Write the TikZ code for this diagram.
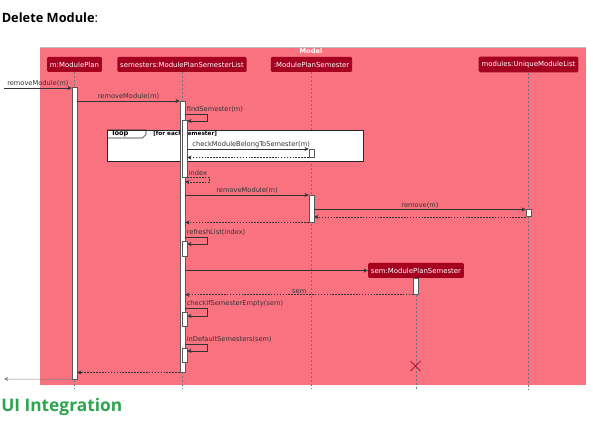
\documentclass[tikz,border=0pt]{standalone}
\usepackage{fontspec}
\setmainfont{Open Sans}
\newfontfamily\umlfont{DejaVu Sans}
\usetikzlibrary{arrows.meta}

\definecolor{modelpink}{RGB}{248,114,128}
\definecolor{boxred}{RGB}{165,0,32}
\definecolor{headgreen}{RGB}{44,164,78}
\definecolor{killred}{RGB}{190,20,60}

\tikzset{
  participant/.style={fill=boxred, text=white, rounded corners=1pt, inner xsep=2.2pt,
    minimum height=11.25pt, font=\umlfont\fontsize{5.2}{6}\selectfont},
  lifeline/.style={black!55, dash pattern=on 1.5pt off 1.5pt, line width=0.3pt},
  activation/.style={draw=black!65, fill=white, line width=0.35pt, minimum width=3.75pt,
    inner sep=0pt, anchor=north},
  msg/.style={-{Stealth[length=3.2pt,width=3pt]}, black!80, line width=0.35pt},
  ret/.style={msg, dash pattern=on 1.2pt off 1pt},
  msglabel/.style={font=\umlfont\fontsize{5}{6}\selectfont, text=black!80, inner sep=1pt},
}

\begin{document}
\begin{tikzpicture}[x=0.75pt,y=-0.75pt]
    \useasboundingbox (0,0) rectangle (593,423);

    % Headings of the page
    \node[anchor=west, inner sep=0pt, font=\fontsize{9.6}{11}\selectfont] (title) at (1.5,18) {\textbf{Delete Module}:};
    \node[anchor=west, inner sep=0pt, text=headgreen, font=\bfseries\fontsize{13}{15}\selectfont] (next) at (1,407) {UI Integration};

    % Draw the Model box
    \fill[modelpink] (40,47) rectangle (586,385);
    \draw[black!25, line width=0.4pt] (40,47) -- (586,47);
    \node[text=white, inner sep=0pt, font=\umlfont\bfseries\fontsize{5}{6}\selectfont] (model) at (311,51.5) {Model};

    % Participants
    \node[participant] (plan) at (74.5,64.5) {m:ModulePlan};
    \node[participant] (list) at (182,64.5) {semesters:ModulePlanSemesterList};
    \node[participant] (semobj) at (311.5,64.5) {:ModulePlanSemester};
    \node[participant] (modules) at (528.5,64.5) {modules:UniqueModuleList};

    % Lifelines
    \coordinate (bottom) at (0,389);
    \draw[lifeline] (plan.south) -- (plan |- bottom);
    \draw[lifeline] (list.south) -- (list |- bottom);
    \draw[lifeline] (semobj.south) -- (semobj |- bottom);
    \draw[lifeline] (modules.south) -- (modules |- bottom);

    % Loop fragment
    \node[draw=black!85, fill=white, line width=0.6pt, minimum width=192pt, minimum height=23.25pt,
      inner sep=0pt, anchor=north west] (loop) at (107,130) {};
    \draw[black!85, line width=0.5pt] (loop.north west) -- ++(39,0) -- ++(0,4.5) -- ++(-3.5,3.5) -- ++(-35.5,0);
    \node[anchor=west, inner sep=0pt, font=\umlfont\bfseries\fontsize{5}{6}\selectfont] (looptext) at (112,134) {loop};
    \node[anchor=west, inner sep=0pt, font=\umlfont\bfseries\fontsize{4.3}{5}\selectfont] (guard) at (153,133.5) {[for each semester]};

    % Activation bars
    \node[activation, minimum height=219pt] (planbar) at (74.5,87) {};
    \node[activation, minimum height=203.25pt] (listbar) at (182.5,101) {};
    \node[activation, minimum height=42.75pt] (findbar) at (184.5,120) {};
    \node[activation, minimum height=6pt] (checkbar) at (311.5,149) {};
    \node[activation, minimum height=20.25pt] (rmbar) at (311.5,195) {};
    \node[activation, minimum height=5.25pt] (uniqbar) at (528.5,209.5) {};
    \node[activation, minimum height=11.25pt] (refreshbar) at (184.5,241) {};
    \node[activation, minimum height=10.5pt] (emptybar) at (184.5,312) {};
    \node[activation, minimum height=10.5pt] (defaultbar) at (184.5,348) {};

    % Messages
    \coordinate (caller) at (4,88);
    \draw[msg] (caller) -- (caller -| planbar.west) node[msglabel, midway, above] {removeModule(m)};
    \draw[msg] (planbar.east |- listbar.north) -- (listbar.north west) node[msglabel, midway, above] {removeModule(m)};
    \draw[msg] (listbar.east |- 0,114) node[msglabel, above right] {findSemester(m)} -- ++(22,0) |- (findbar.east |- 0,121);
    \draw[msg] (findbar.east |- checkbar.north) -- (checkbar.north west) node[msglabel, pos=0.03, above right] {checkModuleBelongToSemester(m)};
    \draw[ret] (checkbar.south west) -- (findbar.east |- checkbar.south);
    \draw[ret] (findbar.south east) node[msglabel, above right] {index} -- ++(22,0) |- (listbar.east |- 0,182);
    \draw[msg] (listbar.east |- rmbar.north) -- (rmbar.north west) node[msglabel, midway, above] {removeModule(m)};
    \draw[msg] (rmbar.east |- uniqbar.north) -- (uniqbar.north west) node[msglabel, midway, above] {remove(m)};
    \draw[ret] (uniqbar.south west) -- (rmbar.east |- uniqbar.south);
    \draw[ret] (rmbar.south west) -- (listbar.east |- rmbar.south);
    \draw[msg] (listbar.east |- 0,237) node[msglabel, above right] {refreshList(index)} -- ++(22,0) |- (refreshbar.east |- 0,244);

    % Created participant
    \node[participant] (sem) at (416,270.5) {sem:ModulePlanSemester};
    \draw[msg] (listbar.east |- sem.west) -- (sem.west);
    \node[activation, minimum height=12pt] (sembar) at (sem.south) {};
    \coordinate (semend) at (415.5,366);
    \draw[lifeline] (sembar.south) -- (sem |- bottom);
    \draw[ret] (sembar.south west) -- (listbar.east |- sembar.south) node[msglabel, midway, above] {sem};
    \draw[killred, line width=0.6pt] (semend) +(-5,-5) -- +(5,5) +(-5,5) -- +(5,-5);

    \draw[msg] (listbar.east |- 0,308) node[msglabel, above right] {checkIfSemesterEmpty(sem)} -- ++(22,0) |- (emptybar.east |- 0,316);
    \draw[msg] (listbar.east |- 0,344) node[msglabel, above right] {inDefaultSemesters(sem)} -- ++(22,0) |- (defaultbar.east |- 0,351);

    % Returns
    \draw[ret] (listbar.south west) -- (planbar.east |- listbar.south);
    \coordinate (back) at (4,379);
    \draw[msg, black!50] (planbar.south west) -- (back);
\end{tikzpicture}
\end{document}
